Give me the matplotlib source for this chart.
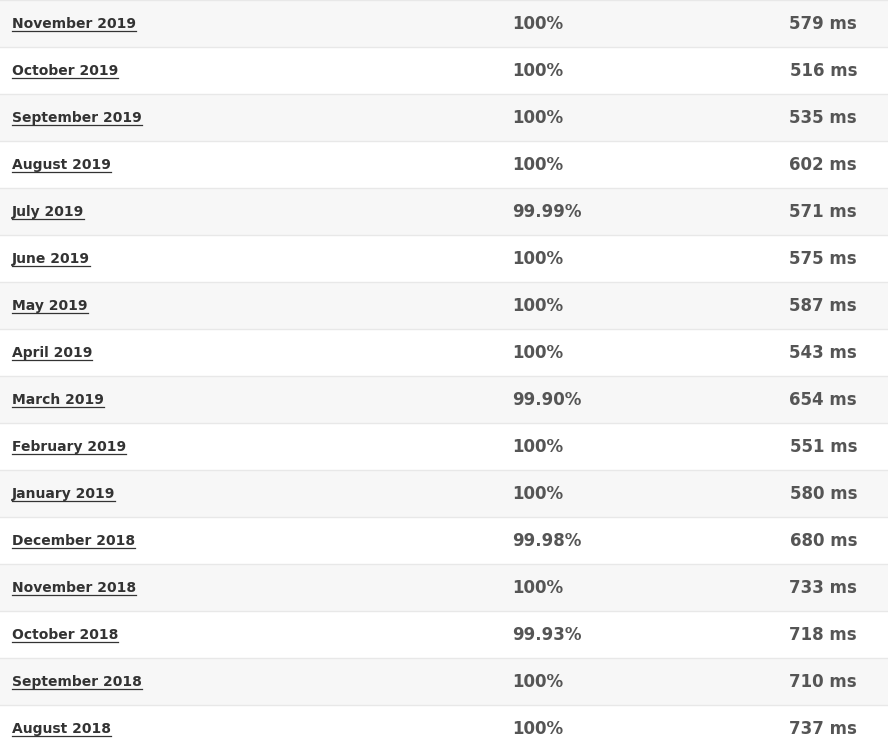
import matplotlib
matplotlib.use("Agg")
import matplotlib.pyplot as plt

months = ["November 2019","October 2019","September 2019","August 2019","July 2019","June 2019",
          "May 2019","April 2019","March 2019","February 2019","January 2019","December 2018",
          "November 2018","October 2018","September 2018","August 2018"]
uptime = ["100%","100%","100%","100%","99.99%","100%","100%","100%","99.90%","100%","100%",
          "99.98%","100%","99.93%","100%","100%"]
resp_ms = [579,516,535,602,571,575,587,543,654,551,580,680,733,718,710,737]

W, H = 888, 752
RH = 47
fig = plt.figure(figsize=(W/100, H/100), dpi=100)
ax = fig.add_axes([0, 0, 1, 1])
ax.set_xlim(0, W); ax.set_ylim(H, 0); ax.axis("off")

labels = []
for i, (m, u, r) in enumerate(zip(months, uptime, resp_ms)):
    y0 = i * RH
    ax.add_patch(plt.Rectangle((0, y0), W, RH, color="#f7f7f7" if i % 2 == 0 else "white", lw=0))
    ax.plot([0, W], [y0, y0], color="#e8e8e8", lw=1)
    yc = y0 + 24
    t = ax.text(12, yc, m, fontsize=10, fontweight="bold", color="#333333", va="center", ha="left")
    labels.append((t, yc))
    ax.text(512, yc, u, fontsize=12, fontweight="bold", color="#555555", va="center", ha="left")
    ax.text(857, yc, f"{r} ms", fontsize=12, fontweight="bold", color="#555555", va="center", ha="right")

fig.canvas.draw()
r = fig.canvas.get_renderer()
for t, yc in labels:
    bb = t.get_window_extent(r)
    ax.plot([12, 12 + bb.width], [yc + 7, yc + 7], color="#333333", lw=0.9)

fig.savefig("out.png", dpi=100)
